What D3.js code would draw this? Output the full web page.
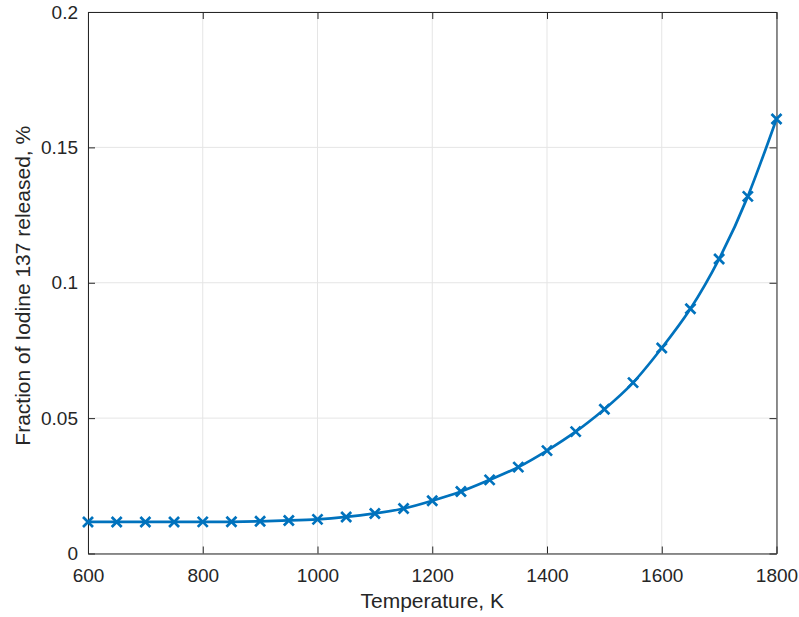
<!DOCTYPE html>
<html><head><meta charset="utf-8">
<script src="https://cdn.jsdelivr.net/npm/d3@7"></script>
<style>body{margin:0;background:#fff;} text{font-family:"Liberation Sans",Arial,Helvetica,sans-serif;}</style>
</head><body><svg id="c" width="799" height="617"></svg>
<script>
const temperatures = [600,650,700,750,800,850,900,950,1000,1050,1100,1150,1200,1250,1300,1350,1400,1450,1500,1550,1600,1650,1700,1750,1800];
const fractionReleased = [0.01165,0.01165,0.01165,0.01166,0.01167,0.0117,0.0119,0.0122,0.0126,0.0135,0.0148,0.0166,0.0195,0.0229,0.0272,0.0319,0.0380,0.0450,0.0533,0.0631,0.0759,0.0904,0.1088,0.1319,0.1605];
const xTicks = [600,800,1000,1200,1400,1600,1800];
const xTickLabels = ["600","800","1000","1200","1400","1600","1800"];
const yTicks = [0,0.05,0.1,0.15,0.2];
const yTickLabels = ["0","0.05","0.1","0.15","0.2"];
const xLabel = "Temperature, K";
const yLabel = "Fraction of Iodine 137 released, %";

const L=88,R=776.5,T=12,B=553.5;
const svg=d3.select("#c");
const x=d3.scaleLinear().domain([600,1800]).range([L,R]);
const y=d3.scaleLinear().domain([0,0.2]).range([B,T]);
const axisCol="#262626";
// grid
svg.append("g").selectAll("line").data(xTicks).join("line")
 .attr("x1",d=>x(d)).attr("x2",d=>x(d)).attr("y1",T).attr("y2",B)
 .attr("stroke","#e5e5e5").attr("stroke-width",1);
svg.append("g").selectAll("line").data(yTicks).join("line")
 .attr("y1",d=>y(d)).attr("y2",d=>y(d)).attr("x1",L).attr("x2",R)
 .attr("stroke","#e5e5e5").attr("stroke-width",1);
// axes with inward ticks
const gB=svg.append("g").attr("transform",`translate(0,${B})`).call(d3.axisBottom(x).tickValues(xTicks).tickFormat((d,i)=>xTickLabels[i]).tickSizeInner(-7).tickSizeOuter(0).tickPadding(15));
const gT=svg.append("g").attr("transform",`translate(0,${T})`).call(d3.axisTop(x).tickValues(xTicks).tickSizeInner(-7).tickSizeOuter(0).tickFormat(""));
const gL=svg.append("g").attr("transform",`translate(${L},0)`).call(d3.axisLeft(y).tickValues(yTicks).tickFormat((d,i)=>yTickLabels[i]).tickSizeInner(-7).tickSizeOuter(0).tickPadding(10));
const gR=svg.append("g").attr("transform",`translate(${R},0)`).call(d3.axisRight(y).tickValues(yTicks).tickSizeInner(-7).tickSizeOuter(0).tickFormat(""));
[gB,gT,gL,gR].forEach(g=>{
  g.select(".domain").attr("stroke",axisCol).attr("stroke-width",1);
  g.selectAll(".tick line").attr("stroke",axisCol);
  g.selectAll("text").attr("fill",axisCol).style("font-size","19px").style("font-family","'Liberation Sans',Arial,sans-serif");
});
// line
const data=temperatures.map((t,i)=>[t,fractionReleased[i]]);
svg.append("path").datum(data)
 .attr("d",d3.line().x(d=>x(d[0])).y(d=>y(d[1])).curve(d3.curveNatural))
 .attr("fill","none").attr("stroke","#0072BD").attr("stroke-width",2.7);
// markers
const s=5;
svg.append("g").selectAll("path").data(data).join("path")
 .attr("d",d=>{const cx=x(d[0]),cy=y(d[1]);return `M${cx-s},${cy-s}L${cx+s},${cy+s}M${cx-s},${cy+s}L${cx+s},${cy-s}`;})
 .attr("stroke","#0072BD").attr("stroke-width",2.7).attr("fill","none");
// labels
svg.append("text").attr("x",(L+R)/2).attr("y",607.5).attr("text-anchor","middle")
 .attr("fill",axisCol).style("font-size","21px").text(xLabel);
svg.append("text").attr("transform",`translate(30,${(T+B)/2+3}) rotate(-90)`).attr("text-anchor","middle")
 .attr("fill",axisCol).style("font-size","21px").text(yLabel);
</script></body></html>
